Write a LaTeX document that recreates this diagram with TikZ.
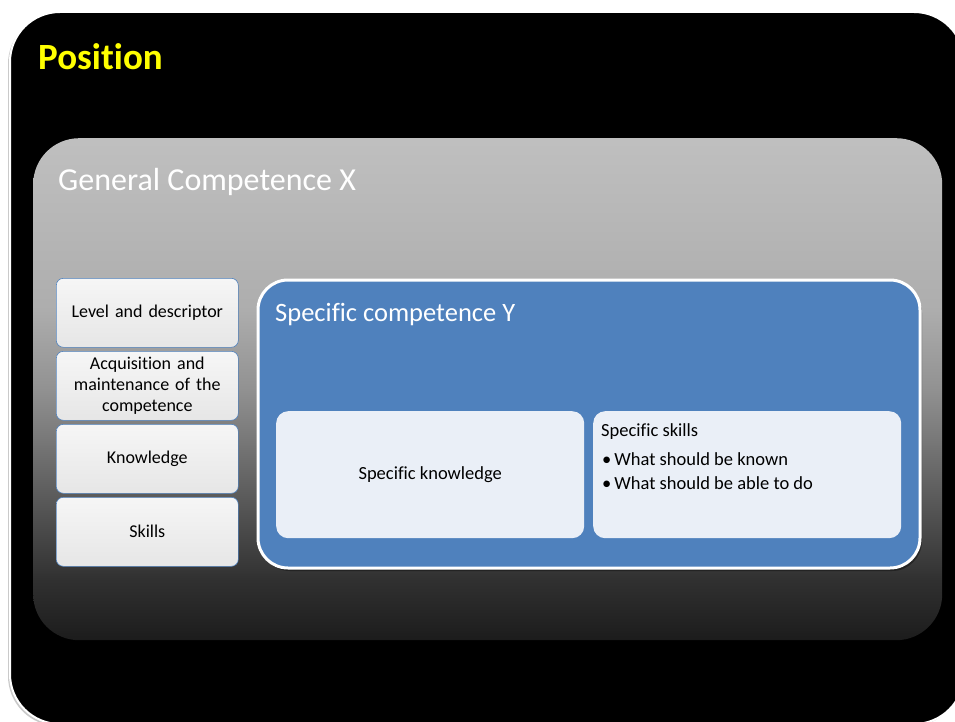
\documentclass[tikz,border=0pt]{standalone}
\usepackage{fontspec}
\setmainfont[Ligatures=NoCommon]{Carlito}
\usetikzlibrary{shadows}
\definecolor{titleyellow}{HTML}{FFFF00}
\definecolor{accentblue}{HTML}{4F81BD}
\definecolor{innerfill}{HTML}{EAEFF7}
\definecolor{sidetop}{HTML}{F6F6F6}
\definecolor{sidebot}{HTML}{E6E6E6}
% vertical grey-to-black fade of the general competence panel
\pgfdeclareverticalshading{panelshade}{100bp}{%
  color(0bp)=(black!89);
  color(25bp)=(black!89);
  color(31bp)=(black!81);
  color(40bp)=(black!63);
  color(50bp)=(black!43);
  color(58bp)=(black!32);
  color(75bp)=(black!25);
  color(100bp)=(black!25)}
\tikzset{
  stage/.style={draw=white, line width=2pt, fill=black, rounded corners=50pt,
    drop shadow={shadow xshift=-2pt, shadow yshift=-2pt, fill=black!35, opacity=.6}},
  panel/.style={shading=panelshade, rounded corners=46pt, draw=none},
  sidebox/.style={draw=accentblue, line width=0.6pt, rounded corners=7pt,
    top color=sidetop, bottom color=sidebot, minimum width=182pt,
    text width=176pt, align=center, inner sep=0pt, font=\fontsize{18}{21}\selectfont},
  specbox/.style={draw=white, line width=3pt, fill=accentblue, rounded corners=30pt,
    drop shadow={shadow xshift=2pt, shadow yshift=-3pt, fill=black, opacity=.35}},
  innerbox/.style={fill=innerfill, rounded corners=12pt, draw=none,
    minimum width=308pt, minimum height=127pt, inner sep=0pt},
  heading/.style={text=white, anchor=base west, inner sep=0pt},
  bodytext/.style={anchor=base west, inner sep=0pt, font=\fontsize{18.5}{21}\selectfont},
}
\begin{document}
\begin{tikzpicture}[x=1pt, y=-1pt]
  \useasboundingbox (0,0) rectangle (955,722);
  % outer stage
  \path[stage] (10,12) rectangle (964,724);
  \node[anchor=base west, inner sep=0pt, text=titleyellow,
        font=\bfseries\fontsize{37}{40}\selectfont] (pos) at (38,70) {Position};
  % general competence panel
  \node[panel, minimum width=909pt, minimum height=502pt, anchor=north west,
        inner sep=0pt] (gen) at (33,138) {};
  \node[heading, font=\fontsize{32}{36}\selectfont] (gentitle) at (58,191) {General Competence X};
  % left column of aspects
  \node[sidebox, minimum height=69pt, anchor=north west] (lvl) at (56,278) {Level and descriptor};
  \node[sidebox, minimum height=69pt, anchor=north west] (acq) at (56,351) {Acquisition and\\maintenance of the\\competence};
  \node[sidebox, minimum height=69pt, anchor=north west] (know) at (56,424) {Knowledge};
  \node[sidebox, minimum height=69pt, anchor=north west] (skl) at (56,497) {Skills};
  % specific competence
  \path[specbox] (258,280) rectangle (920,568);
  \node[heading, font=\fontsize{26.5}{30}\selectfont] (spectitle) at (275,321) {Specific competence Y};
  \node[innerbox, anchor=north west, font=\fontsize{18.5}{21}\selectfont] (sk) at (276,411) {Specific knowledge};
  \node[innerbox, anchor=north west] (ss) at (593,411) {};
  \node[bodytext] (sshead) at (601,436) {Specific skills};
  \node[bodytext] (b1) at (602,465) {\textbullet\hspace{3pt}What should be known};
  \node[bodytext] (b2) at (602,489) {\textbullet\hspace{3pt}What should be able to do};
\end{tikzpicture}
\end{document}
